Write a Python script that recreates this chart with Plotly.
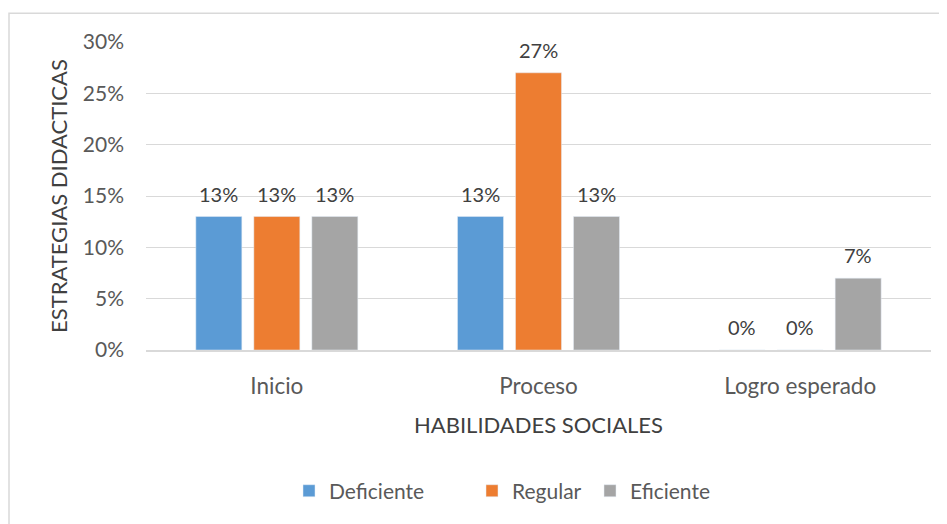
import plotly.graph_objects as go

categories = ["Inicio", "Proceso", "Logro esperado"]
deficiente = [13, 13, 0]
regular = [13, 27, 0]
eficiente = [13, 13, 7]
series_names = ["Deficiente", "Regular", "Eficiente"]
colors = ["#5B9BD5", "#ED7D31", "#A5A5A5"]
y_ticks = [0, 5, 10, 15, 20, 25, 30]
y_tick_labels = ["0%", "5%", "10%", "15%", "20%", "25%", "30%"]

FONT = "Lato, Calibri, Carlito, sans-serif"
# page body has an 8px margin, so the figure is 8px smaller and offsets reduced
OFF = 8
PL, PR, PT, PB = 146, 16, 42, 172
W, H = 947, 524
plot_w = W - PL - PR
plot_h = H - PT - PB

def px_to_paper_x(px):
    return (px - PL) / plot_w

def px_to_paper_y(py):
    return (PT + plot_h - py) / plot_h

fig = go.Figure()
series = [deficiente, regular, eficiente]
legend_ids = ["legend", "legend2", "legend3"]
legend_square_left = [308, 491, 609]
slot_px = 58
for i, (name, vals, col) in enumerate(zip(series_names, series, colors)):
    fig.add_trace(go.Bar(x=categories, y=vals, name=name, marker_color=col,
                         legend=legend_ids[i]))
    for cat, v in zip(categories, vals):
        fig.add_annotation(x=cat, y=v, xref="x", yref="y", text=f"{v}%",
                           showarrow=False, xshift=(i - 1) * slot_px, yshift=23,
                           yanchor="middle",
                           font=dict(size=20, color="#404040", family=FONT))

legend_layout = {}
for lid, sq in zip(legend_ids, legend_square_left):
    legend_layout[lid] = dict(orientation="h", x=px_to_paper_x(sq - 19), xanchor="left",
                              y=px_to_paper_y(494), yanchor="middle",
                              font=dict(size=21, color="#595959", family=FONT),
                              bgcolor="rgba(0,0,0,0)")

fig.update_layout(
    width=W - OFF, height=H - OFF,
    margin=dict(l=PL - OFF, r=PR, t=PT - OFF, b=PB, pad=0),
    paper_bgcolor="white", plot_bgcolor="white",
    barmode="group", bargap=0.335, bargroupgap=0.207,
    font=dict(family=FONT, color="#595959", size=20),
    showlegend=True,
    **legend_layout,
)
fig.update_yaxes(
    range=[0, 30], tickvals=y_ticks, ticktext=y_tick_labels,
    showgrid=True, gridcolor="#D9D9D9", gridwidth=1,
    zeroline=False, showline=False, ticks="", ticklabelstandoff=21,
    tickfont=dict(size=21, color="#595959"),
)
fig.add_annotation(xref="paper", yref="paper", x=px_to_paper_x(58), y=0.5,
                   text="ESTRATEGIAS DIDACTICAS", textangle=-90, showarrow=False,
                   xanchor="center", yanchor="middle",
                   font=dict(size=22, color="#404040", family=FONT))
fig.update_xaxes(
    showline=True, linecolor="#D9D9D9", linewidth=1.5, ticks="",
    tickfont=dict(size=22.5, color="#595959"), ticklabelstandoff=15,
    title=dict(text="HABILIDADES SOCIALES", font=dict(size=22, color="#404040"), standoff=20),
)
fig.add_shape(type="rect", xref="paper", yref="paper",
              x0=px_to_paper_x(9), x1=1.2, y0=-1.0, y1=px_to_paper_y(13),
              line=dict(color="#D9D9D9", width=1.5), fillcolor="rgba(0,0,0,0)", layer="below")
fig.write_html("out.html")
